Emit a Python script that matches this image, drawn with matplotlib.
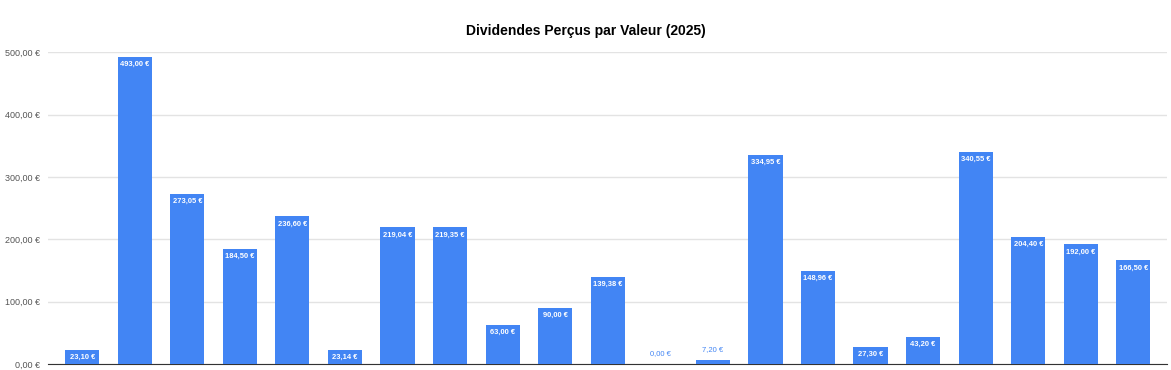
import numpy as np
import matplotlib.pyplot as plt

plt.rcParams['font.family'] = ['Liberation Sans', 'DejaVu Sans']

# valeurs
valeurs = [23.10, 493.00, 273.05, 184.50, 236.60, 23.14, 219.04, 219.35, 63.00,
           90.00, 139.38, 0.00, 7.20, 334.95, 148.96, 27.30, 43.20, 340.55,
           204.40, 192.00, 166.50]
yticks = [0, 100, 200, 300, 400, 500]

bleu = '#4285F4'

def euro(v):
    return f'{v:.2f}'.replace('.', ',') + ' €'

fig = plt.figure(figsize=(11.71, 3.7), dpi=100)
ax = fig.add_axes([0.041, 0.016, 0.956, 0.843])

x = np.arange(len(valeurs))
ax.bar(x, valeurs, width=0.65, color=bleu, zorder=3)

for xi, v in zip(x, valeurs):
    if v < 15:
        ax.annotate(euro(v), (xi, v), xytext=(0, 5), textcoords='offset points',
                    ha='center', va='bottom', fontsize=5.5, color=bleu)
    else:
        ax.annotate(euro(v), (xi, v), xytext=(0, -5.5), textcoords='offset points',
                    ha='center', va='center', fontsize=5.4, color='white', fontweight='bold',
                    bbox=dict(boxstyle='square,pad=0.25', fc=bleu, ec='none'), zorder=4)

ax.set_xlim(-0.65, len(valeurs) - 0.35)
ax.set_ylim(0, 500)
ax.set_yticks(yticks)
ax.set_yticklabels([euro(t) for t in yticks], fontsize=6.5, color='#555555')
ax.set_xticks([])
ax.grid(axis='y', color='#e3e3e3', linewidth=1, zorder=0)
for s in ['top', 'right', 'left']:
    ax.spines[s].set_visible(False)
ax.spines['bottom'].set_color('#333333')
ax.tick_params(axis='y', length=0, pad=6)

fig.suptitle('Dividendes Perçus par Valeur (2025)', fontsize=10, fontweight='bold', y=0.935)

fig.savefig('out.png', dpi=100)
